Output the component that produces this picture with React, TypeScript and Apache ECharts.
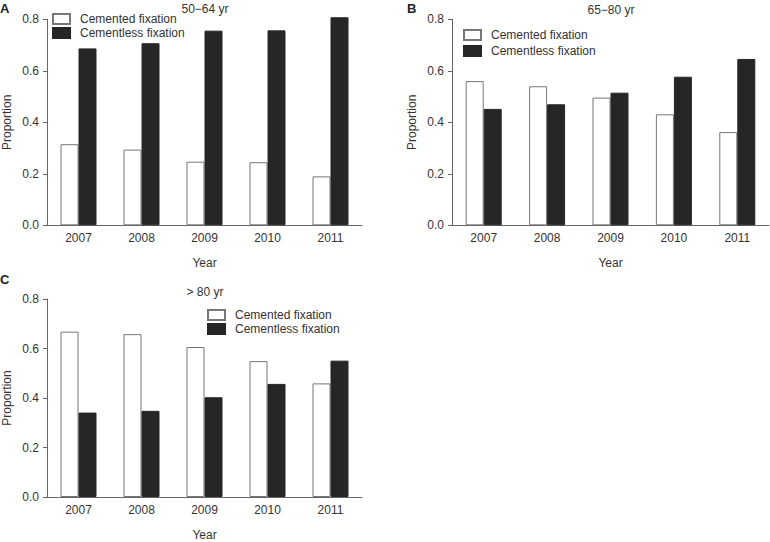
import React, { useEffect, useRef } from "react";
import * as echarts from "echarts";

const years = ["2007", "2008", "2009", "2010", "2011"];
const seriesNames = ["Cemented fixation", "Cementless fixation"];
const cementedA = [0.315, 0.294, 0.247, 0.245, 0.19];
const cementlessA = [0.687, 0.707, 0.756, 0.757, 0.808];
const cementedB = [0.56, 0.54, 0.496, 0.431, 0.362];
const cementlessB = [0.452, 0.47, 0.515, 0.577, 0.646];
const cementedC = [0.668, 0.658, 0.606, 0.549, 0.459];
const cementlessC = [0.341, 0.348, 0.403, 0.457, 0.551];
const panelLetters = ["A", "B", "C"];
const panelTitles = ["50\u221264 yr", "65\u221280 yr", "> 80 yr"];

const FONT = "Liberation Sans, Arial, sans-serif";
const TXT = "#333";
const AX = "#666";

export default function App() {
  const ref = useRef<HTMLDivElement>(null);
  useEffect(() => {
    document.body.style.margin = "0";
    const chart = echarts.init(ref.current!, null, { renderer: "svg" });
    const grids = [
      { left: 46, top: 19.3, width: 316, height: 206 },
      { left: 452, top: 19.3, width: 317, height: 206 },
      { left: 46, top: 299, width: 316, height: 205.7 },
    ];
    const data = [
      [cementedA, cementlessA],
      [cementedB, cementlessB],
      [cementedC, cementlessC],
    ];
    const xAxis = grids.map((_, i) => ({
      type: "category",
      gridIndex: i,
      data: years,
      name: "Year",
      nameLocation: "middle",
      nameGap: 32,
      nameTextStyle: { color: TXT, fontSize: 12, fontFamily: FONT },
      axisLine: { lineStyle: { color: AX, width: 1 } },
      axisTick: { alignWithLabel: true, length: 4, lineStyle: { color: AX } },
      axisLabel: { color: TXT, fontSize: 12, fontFamily: FONT, margin: 7 },
    }));
    const yAxis = grids.map((_, i) => ({
      type: "value",
      gridIndex: i,
      min: 0,
      max: 0.8,
      interval: 0.2,
      name: "Proportion",
      nameLocation: "middle",
      nameGap: 34,
      nameTextStyle: { color: TXT, fontSize: 12, fontFamily: FONT },
      axisLine: { show: true, lineStyle: { color: AX, width: 1 } },
      axisTick: { show: true, length: 4, lineStyle: { color: AX } },
      splitLine: { show: false },
      axisLabel: {
        color: TXT,
        fontSize: 12,
        fontFamily: FONT,
        margin: 8,
        formatter: (v: number) => v.toFixed(1),
      },
    }));
    const series: any[] = [];
    data.forEach((pair, i) => {
      series.push({
        name: seriesNames[0],
        type: "bar",
        xAxisIndex: i,
        yAxisIndex: i,
        data: pair[0],
        barWidth: 18,
        barGap: "0%",
        clip: false,
        itemStyle: { color: "#ffffff", borderColor: "#777", borderWidth: 1 },
      });
      series.push({
        name: seriesNames[1],
        type: "bar",
        xAxisIndex: i,
        yAxisIndex: i,
        data: pair[1],
        barWidth: 18,
        barGap: "0%",
        clip: false,
        itemStyle: { color: "#262626", borderColor: "#262626", borderWidth: 1 },
      });
    });
    const legendPos = [
      { left: 52, top: 12, itemGap: 0 },
      { left: 463, top: 28, itemGap: 2 },
      { left: 207, top: 308, itemGap: 0 },
    ];
    const legend = legendPos.map((p) => ({
      data: seriesNames,
      orient: "vertical",
      left: p.left,
      top: p.top,
      itemGap: p.itemGap,
      itemWidth: 17,
      itemHeight: 10,
      padding: 0,
      icon: "rect",
      selectedMode: false,
      textStyle: {
        color: TXT,
        fontSize: 12,
        fontFamily: FONT,
        lineHeight: 14,
        padding: [0, 0, 0, 5],
      },
    }));
    const letterPos = [
      [0, 2],
      [407, 2],
      [0, 273],
    ];
    const titlePos = [
      [205, 9],
      [611, 10],
      [205, 292],
    ];
    const graphic: any[] = [];
    panelLetters.forEach((l, i) => {
      graphic.push({
        type: "text",
        left: letterPos[i][0],
        top: letterPos[i][1],
        style: { text: l, fontSize: 13, fontWeight: "bold", fontFamily: FONT, fill: "#222" },
      });
      graphic.push({
        type: "text",
        x: titlePos[i][0],
        y: titlePos[i][1],
        style: {
          text: panelTitles[i],
          fontSize: 12,
          fontFamily: FONT,
          fill: TXT,
          align: "center",
          verticalAlign: "middle",
        },
      });
    });
    chart.setOption({
      animation: false,
      backgroundColor: "#fff",
      grid: grids,
      xAxis,
      yAxis,
      legend,
      series,
      graphic,
    });
    return () => chart.dispose();
  }, []);
  return <div ref={ref} style={{ width: 770, height: 542 }} />;
}
